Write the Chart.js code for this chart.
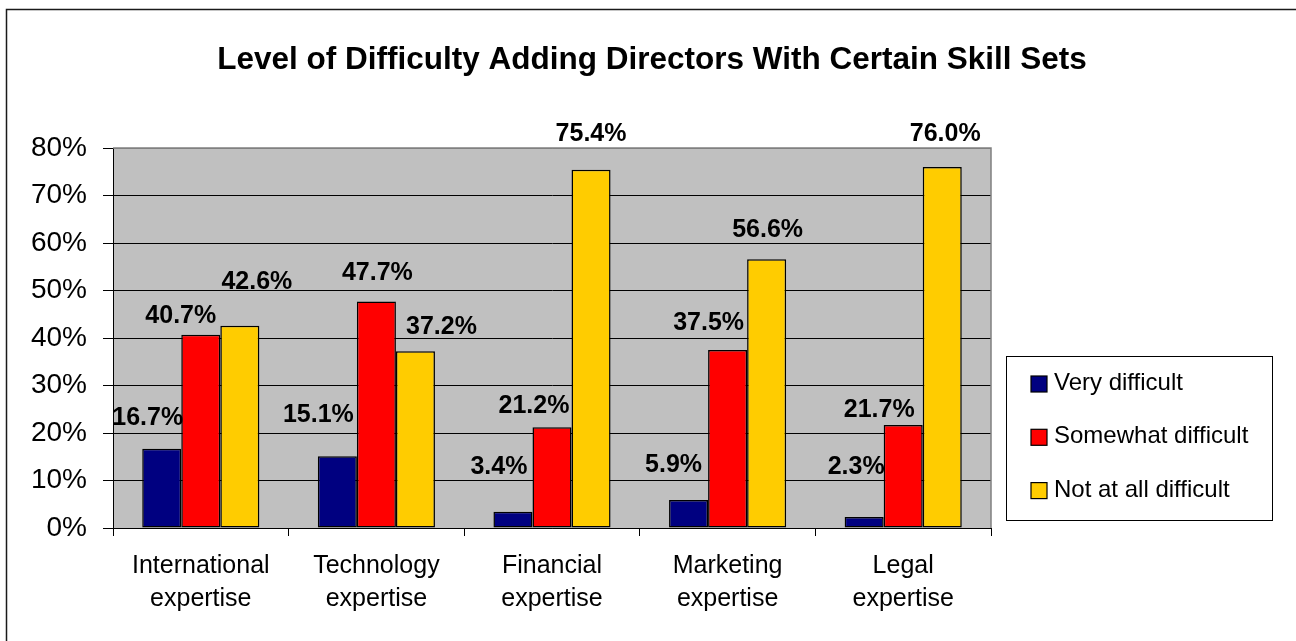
<!DOCTYPE html>
<html>
<head>
<meta charset="utf-8">
<script src="https://cdn.jsdelivr.net/npm/chart.js@4.4.1/dist/chart.umd.min.js"></script>
<style>
  html, body { margin: 0; padding: 0; background: #ffffff; }
  #wrap { width: 1296px; height: 641px; }
</style>
</head>
<body>
<div id="wrap"><canvas id="c" width="1296" height="641"></canvas></div>
<script>
// ---- data ----
const chartTitle = "Level of Difficulty Adding Directors With Certain Skill Sets";
const categories = [
  ["International", "expertise"],
  ["Technology", "expertise"],
  ["Financial", "expertise"],
  ["Marketing", "expertise"],
  ["Legal", "expertise"]
];
const seriesNames = ["Very difficult", "Somewhat difficult", "Not at all difficult"];
const veryDifficult = [16.7, 15.1, 3.4, 5.9, 2.3];
const somewhatDifficult = [40.7, 47.7, 21.2, 37.5, 21.7];
const notAtAllDifficult = [42.6, 37.2, 75.4, 56.6, 76.0];
const yTickValues = [0, 10, 20, 30, 40, 50, 60, 70, 80];

// ---- label placement nudges (pixels, relative to default spot above each bar) ----
const labelNudgeVery = [[-14, -3], [-19, -13], [-14, -17], [-15, -7], [-8, -22]];
const labelNudgeSomewhat = [[-20, 9], [1, 0], [-18, 7], [-19, 1], [-24, 13]];
const labelNudgeNot = [[17, -16], [26, 4], [0, -8], [1, -1], [3, -5]];
const labelNudges = [labelNudgeVery, labelNudgeSomewhat, labelNudgeNot];

// ---- styles ----
const seriesColors = ["#000080", "#FF0000", "#FFCC00"];
const FONT = '"Liberation Sans", Arial, Helvetica, sans-serif';

const frameAndBg = {
  id: 'frameAndBg',
  beforeDraw(chart) {
    const ctx = chart.ctx, a = chart.chartArea;
    ctx.save();
    ctx.fillStyle = '#ffffff';
    ctx.fillRect(0, 0, chart.width, chart.height);
    // outer chart border (only left/top visible in the reference)
    ctx.strokeStyle = '#1a1a1a';
    ctx.lineWidth = 1.5;
    ctx.strokeRect(6.5, 9.5, chart.width + 20, chart.height + 20);
    // plot area background
    ctx.fillStyle = '#C0C0C0';
    ctx.fillRect(a.left, a.top, a.right - a.left, a.bottom - a.top);
    ctx.restore();
  },
  beforeDatasetsDraw(chart) {
    const ctx = chart.ctx, a = chart.chartArea;
    ctx.save();
    ctx.strokeStyle = '#808080';
    ctx.lineWidth = 1.5;
    ctx.beginPath();
    ctx.moveTo(a.left, a.top);
    ctx.lineTo(a.right, a.top);
    ctx.lineTo(a.right, a.bottom);
    ctx.stroke();
    ctx.restore();
  },
  afterDraw(chart) {
    const ctx = chart.ctx;
    ctx.save();
    // title
    ctx.fillStyle = '#000';
    ctx.font = 'bold 31.5px ' + FONT;
    ctx.textAlign = 'center';
    ctx.textBaseline = 'alphabetic';
    ctx.fillText(chartTitle, 652, 69);
    // legend
    const bx = 1006, by = 356, bw = 266, bh = 164;
    ctx.fillStyle = '#fff';
    ctx.fillRect(bx, by, bw, bh);
    ctx.strokeStyle = '#000';
    ctx.lineWidth = 1;
    ctx.strokeRect(bx + 0.5, by + 0.5, bw, bh);
    ctx.font = '24px ' + FONT;
    ctx.textAlign = 'left';
    chart.data.datasets.forEach((ds, i) => {
      const cy = 384 + i * 53.3;
      ctx.fillStyle = ds.backgroundColor;
      ctx.fillRect(1031, cy - 8, 16, 16);
      ctx.strokeStyle = '#000';
      ctx.lineWidth = 1.2;
      ctx.strokeRect(1031, cy - 8, 16, 16);
      ctx.fillStyle = '#000';
      ctx.fillText(ds.label, 1054, cy + 6);
    });
    ctx.restore();
  },
  afterDatasetsDraw(chart) {
    const ctx = chart.ctx;
    ctx.save();
    ctx.fillStyle = '#000';
    ctx.font = 'bold 25px ' + FONT;
    ctx.textAlign = 'center';
    ctx.textBaseline = 'middle';
    chart.data.datasets.forEach((ds, di) => {
      const meta = chart.getDatasetMeta(di);
      meta.data.forEach((el, i) => {
        const n = labelNudges[di][i];
        ctx.fillText(ds.data[i].toFixed(1) + '%', el.x + n[0], el.y - 28 + n[1]);
      });
    });
    ctx.restore();
  }
};

const datasets = [veryDifficult, somewhatDifficult, notAtAllDifficult].map((vals, i) => ({
  label: seriesNames[i],
  data: vals,
  backgroundColor: seriesColors[i],
  borderColor: '#000000',
  borderWidth: 1.5,
  borderSkipped: false,
  categoryPercentage: 0.667,
  barPercentage: 1.0
}));

new Chart(document.getElementById('c'), {
  type: 'bar',
  data: { labels: categories, datasets },
  options: {
    responsive: false,
    animation: false,
    devicePixelRatio: 1,
    layout: { padding: { top: 148, right: 305, bottom: 13, left: 0 } },
    plugins: {
      legend: { display: false },
      title: { display: false },
      tooltip: { enabled: false }
    },
    scales: {
      x: {
        offset: true,
        afterFit(scale) { scale.height = 100; },
        grid: { display: true, drawOnChartArea: false, drawTicks: true, tickLength: 8, tickColor: '#000', offset: true },
        border: { display: true, color: '#000', width: 1 },
        ticks: {
          color: '#000',
          font: { family: FONT, size: 25, lineHeight: 1.32 },
          padding: 14,
          maxRotation: 0,
          autoSkip: false
        }
      },
      y: {
        min: 0,
        max: 80,
        afterFit(scale) { scale.width = 113; },
        afterBuildTicks(scale) { scale.ticks = yTickValues.map(v => ({ value: v })); },
        grid: {
          color: (c) => (c.tick && c.tick.value === 80) ? '#808080' : '#000000',
          lineWidth: 1,
          drawTicks: true,
          tickLength: 10,
          tickColor: '#000'
        },
        border: { display: true, color: '#000', width: 1 },
        ticks: {
          color: '#000',
          font: { family: FONT, size: 28 },
          padding: 16,
          callback: (v) => v + '%'
        }
      }
    }
  },
  plugins: [frameAndBg]
});
</script>
</body>
</html>
